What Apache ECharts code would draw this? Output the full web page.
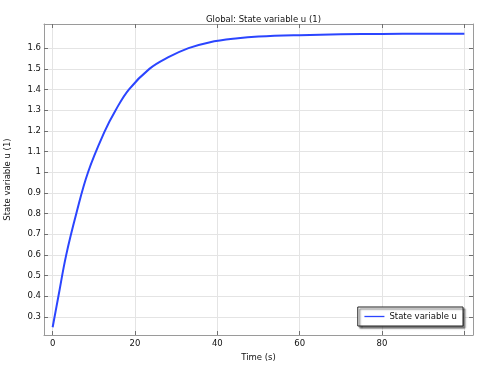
<!DOCTYPE html>
<html>
<head>
<meta charset="utf-8">
<script src="https://cdn.jsdelivr.net/npm/echarts@6/dist/echarts.min.js"></script>
<style>html,body{margin:0;padding:0;background:#fff}#c{width:480px;height:369px}</style>
</head>
<body>
<div id="c"></div>
<script>
// Data
const timeValues = [0, 1.4, 3.3, 5.75, 8.6, 12.7, 15.3, 18.5, 23.5, 28, 33, 38, 45, 50, 60, 70, 80, 90, 100];
const uValues =    [0.25, 0.40, 0.60, 0.80, 1.00, 1.20, 1.30, 1.40, 1.50, 1.555, 1.60, 1.628, 1.648, 1.656, 1.663, 1.667, 1.669, 1.670, 1.670];
const xTickValues = [0, 20, 40, 60, 80, 100];
const xLabelValues = [0, 20, 40, 60, 80];
const yTickValues = [0.3, 0.4, 0.5, 0.6, 0.7, 0.8, 0.9, 1.0, 1.1, 1.2, 1.3, 1.4, 1.5, 1.6];
const seriesName = 'State variable u';
const titleText = 'Global: State variable u (1)';
const xName = 'Time (s)';
const yName = 'State variable u (1)';

const FONT = 'DejaVu Sans';
const FS = 8.5;
const TXT = '#111';
const seriesData = timeValues.map((t, i) => [t, uValues[i]]);

const frameColor = '#9a9a9a';
const tickColor = '#707070';
const gridColor = '#e4e4e4';
const lineColor = '#2b45ff';

const chart = echarts.init(document.getElementById('c'), null, {renderer: 'canvas'});
chart.setOption({
  animation: false,
  backgroundColor: '#fff',
  textStyle: {fontFamily: FONT},
  title: {
    text: titleText,
    left: 258.5, top: 10, textAlign: 'center',
    textStyle: {fontFamily: FONT, fontSize: FS, fontWeight: 'normal', color: TXT}
  },
  grid: {left: 44, right: 7, top: 24, bottom: 34, containLabel: false, outerBoundsMode: 'none'},
  legend: {
    right: 17, top: 307,
    orient: 'horizontal',
    backgroundColor: '#fff',
    borderColor: '#222', borderWidth: 1,
    shadowColor: 'rgba(0,0,0,0.6)', shadowBlur: 1.5, shadowOffsetX: 2, shadowOffsetY: 2,
    padding: [5, 6, 5, 6],
    itemWidth: 20, itemHeight: 8, itemGap: 5,
    lineStyle: {width: 1.3},
    itemStyle: {color: 'transparent', borderWidth: 0},
    textStyle: {fontFamily: FONT, fontSize: FS, color: TXT},
    data: [seriesName]
  },
  xAxis: [{
    type: 'value', min: -2.1, max: 102.1,
    position: 'bottom',
    name: xName, nameLocation: 'middle', nameGap: 17,
    nameTextStyle: {fontFamily: FONT, fontSize: FS, color: TXT},
    axisLine: {show: true, onZero: false, lineStyle: {color: frameColor, width: 1}},
    axisTick: {show: true, inside: true, length: 4, customValues: xTickValues, lineStyle: {color: tickColor}},
    axisLabel: {show: true, customValues: xLabelValues, margin: 4, fontFamily: FONT, fontSize: FS, color: TXT},
    splitLine: {show: true, lineStyle: {color: gridColor, width: 1}}
  }, {
    type: 'value', min: -2.1, max: 102.1,
    position: 'top',
    axisLine: {show: true, onZero: false, lineStyle: {color: frameColor, width: 1}},
    axisTick: {show: true, inside: true, length: 4, customValues: xTickValues, lineStyle: {color: tickColor}},
    axisLabel: {show: false},
    splitLine: {show: false}
  }],
  yAxis: [{
    type: 'value', min: 0.2125, max: 1.717,
    position: 'left',
    name: yName, nameLocation: 'middle', nameGap: 32,
    nameTextStyle: {fontFamily: FONT, fontSize: FS, color: TXT},
    axisLine: {show: true, onZero: false, lineStyle: {color: frameColor, width: 1}},
    axisTick: {show: true, inside: true, length: 4, customValues: yTickValues, lineStyle: {color: tickColor}},
    axisLabel: {show: true, customValues: yTickValues, margin: 3, fontFamily: FONT, fontSize: FS, color: TXT,
      formatter: v => String(Math.round(v * 10) / 10)},
    splitLine: {show: true, lineStyle: {color: gridColor, width: 1}}
  }, {
    type: 'value', min: 0.2125, max: 1.717,
    position: 'right',
    axisLine: {show: true, onZero: false, lineStyle: {color: frameColor, width: 1}},
    axisTick: {show: true, inside: true, length: 4, customValues: yTickValues, lineStyle: {color: tickColor}},
    axisLabel: {show: false},
    splitLine: {show: false}
  }],
  series: [{
    name: seriesName,
    type: 'line',
    xAxisIndex: 0, yAxisIndex: 0,
    data: seriesData,
    smooth: 0.4,
    symbol: 'none',
    lineStyle: {color: lineColor, width: 2},
    itemStyle: {color: lineColor}
  }]
});
</script>
</body>
</html>
